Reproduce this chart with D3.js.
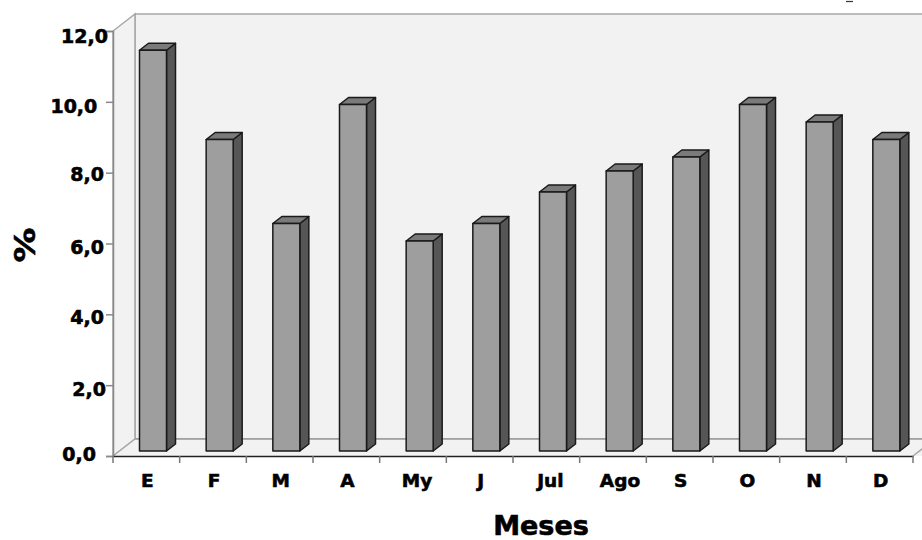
<!DOCTYPE html>
<html>
<head>
<meta charset="utf-8">
<script src="https://cdn.jsdelivr.net/npm/d3@7"></script>
<style>
body { margin: 0; background: #fff; }
text { font-family: "DejaVu Sans", Verdana, sans-serif; font-weight: bold; fill: #000; stroke: #000; stroke-width: 0.6px; }
</style>
</head>
<body>
<div class="chart"></div>
<script>
var months = ["E", "F", "M", "A", "My", "J", "Jul", "Ago", "S", "O", "N", "D"];
var percent = [11.45, 8.9, 6.5, 9.9, 6.0, 6.5, 7.4, 8.0, 8.4, 9.9, 9.4, 8.9];
var yTicks = [0, 2, 4, 6, 8, 10, 12];

var svgWidth = 922;
var svgHeight = 540;

var svg = d3.select(".chart")
    .append("svg")
    .attr("width", svgWidth)
    .attr("height", svgHeight)
    .style("display", "block");

var xScale = d3.scaleBand().domain(months).range([113, 913]);
var yScale = d3.scaleLinear().domain([0, 12]).range([456, 31]);

// bars stand a little behind the front edge of the floor
var barY = d3.scaleLinear().domain([0, 12]).range([451, 31]);

var depth = { x: 22, y: 17 };
var barDepth = { x: 9, y: 7 };
var barWidth = 27;
var wallColor = "#f2f2f2";
var wallLine = "#a8a8a8";

// the tick labels are not lined up in the original: [right edge from axis, baseline from tick]
var yLabelShift = { 0: [-17, 4.7], 2: [-7, 10], 4: [-9, 9.2], 6: [-9, 9.7], 8: [-9, 8.3], 10: [-15.7, 10.3], 12: [-5, 11.2] };
var xLabelShift = { My: 3, Jul: 3, Ago: 6 };

var left = xScale.range()[0];
var right = xScale.range()[1];
var bottom = yScale(0);
var top12 = yScale(12);

// back wall, left wall and floor
svg.append("rect")
    .attr("x", left + depth.x)
    .attr("y", top12 - depth.y)
    .attr("width", svgWidth)
    .attr("height", bottom - top12)
    .attr("fill", wallColor)
    .attr("stroke", wallLine)
    .attr("stroke-width", 1.5);

svg.append("path")
    .attr("d", `M${left},${bottom}L${left},${top12}L${left + depth.x},${top12 - depth.y}L${left + depth.x},${bottom - depth.y}Z`)
    .attr("fill", wallColor)
    .attr("stroke", wallLine)
    .attr("stroke-width", 1.5);

svg.append("path")
    .attr("d", `M${left},${bottom}L${left + depth.x},${bottom - depth.y}L${svgWidth + 5},${bottom - depth.y}L${svgWidth + 5},${bottom}Z`)
    .attr("fill", wallColor)
    .attr("stroke", "none");

svg.append("line")
    .attr("x1", left + depth.x)
    .attr("x2", svgWidth)
    .attr("y1", bottom - depth.y)
    .attr("y2", bottom - depth.y)
    .attr("stroke", "#999")
    .attr("stroke-width", 1.5);

svg.append("line")
    .attr("x1", left)
    .attr("x2", left + depth.x)
    .attr("y1", bottom)
    .attr("y2", bottom - depth.y)
    .attr("stroke", wallLine)
    .attr("stroke-width", 1.5);

svg.append("line")
    .attr("x1", right)
    .attr("x2", right + depth.x)
    .attr("y1", bottom)
    .attr("y2", bottom - depth.y)
    .attr("stroke", wallLine)
    .attr("stroke-width", 1.5);

// bars
var bars = svg.selectAll(".bar")
    .data(months)
    .enter()
    .append("g")
    .attr("class", "bar")
    .attr("stroke", "#1a1a1a")
    .attr("stroke-width", 1.5)
    .attr("stroke-linejoin", "round");

function barLeft(d) {
    return xScale(d) + 26.5;
}

function barTop(i) {
    return barY(percent[i]);
}

bars.append("path")
    .attr("fill", "#565656")
    .attr("d", function(d, i) {
        var x = barLeft(d) + barWidth;
        return `M${x},${barY(0)}L${x + barDepth.x},${barY(0) - barDepth.y}L${x + barDepth.x},${barTop(i) - barDepth.y}L${x},${barTop(i)}Z`;
    });

bars.append("path")
    .attr("fill", "#7a7a7a")
    .attr("d", function(d, i) {
        var x = barLeft(d);
        var y = barTop(i);
        return `M${x},${y}L${x + barDepth.x},${y - barDepth.y}L${x + barWidth + barDepth.x},${y - barDepth.y}L${x + barWidth},${y}Z`;
    });

bars.append("rect")
    .attr("fill", "#9e9e9e")
    .attr("x", barLeft)
    .attr("y", function(d, i) { return barTop(i); })
    .attr("width", barWidth)
    .attr("height", function(d, i) { return barY(0) - barTop(i); });

// axes
var leftAxis = d3.axisLeft(yScale)
    .tickValues(yTicks)
    .tickSize(7)
    .tickFormat(function(d) { return d3.format(".1f")(d).replace(".", ","); });

var yAxis = svg.append("g")
    .attr("transform", `translate(${left}, 0)`)
    .call(leftAxis);

yAxis.select(".domain").attr("stroke", "#888").attr("stroke-width", 1.5);
yAxis.selectAll(".tick line").attr("stroke", "#888").attr("stroke-width", 1.5);
yAxis.selectAll(".tick text")
    .style("font-size", "19px")
    .attr("dy", 0)
    .attr("x", function(d) { return yLabelShift[d][0]; })
    .attr("y", function(d) { return yLabelShift[d][1]; });

var bottomAxis = d3.axisBottom(xScale)
    .tickSize(0);

var xAxis = svg.append("g")
    .attr("transform", `translate(0, ${bottom})`)
    .call(bottomAxis);

xAxis.select(".domain").attr("stroke", "#222").attr("stroke-width", 1.5);
xAxis.selectAll(".tick text")
    .style("font-size", "18.5px")
    .attr("dy", 0)
    .attr("y", 31)
    .attr("x", function(d) { return 1 + (xLabelShift[d] || 0); });

// month ticks sit on the band edges
xAxis.selectAll(".edge")
    .data(months.map(function(d) { return xScale(d); }).concat([right]))
    .enter()
    .append("line")
    .attr("class", "edge")
    .attr("x1", function(d) { return d; })
    .attr("x2", function(d) { return d; })
    .attr("y1", 0)
    .attr("y2", 7)
    .attr("stroke", "#777")
    .attr("stroke-width", 1.5);

// axis titles
svg.append("text")
    .attr("x", 541)
    .attr("y", 535)
    .attr("text-anchor", "middle")
    .style("font-size", "27px")
    .text("Meses");

svg.append("text")
    .attr("transform", "translate(34.5, 245) rotate(-90) scale(1.2, 1)")
    .attr("text-anchor", "middle")
    .style("font-size", "29px")
    .text("%");

// stray mark at the top edge of the scan
svg.append("line")
    .attr("x1", 846)
    .attr("x2", 853)
    .attr("y1", 1.5)
    .attr("y2", 1.5)
    .attr("stroke", "#333")
    .attr("stroke-width", 1.2);
</script>
</body>
</html>
